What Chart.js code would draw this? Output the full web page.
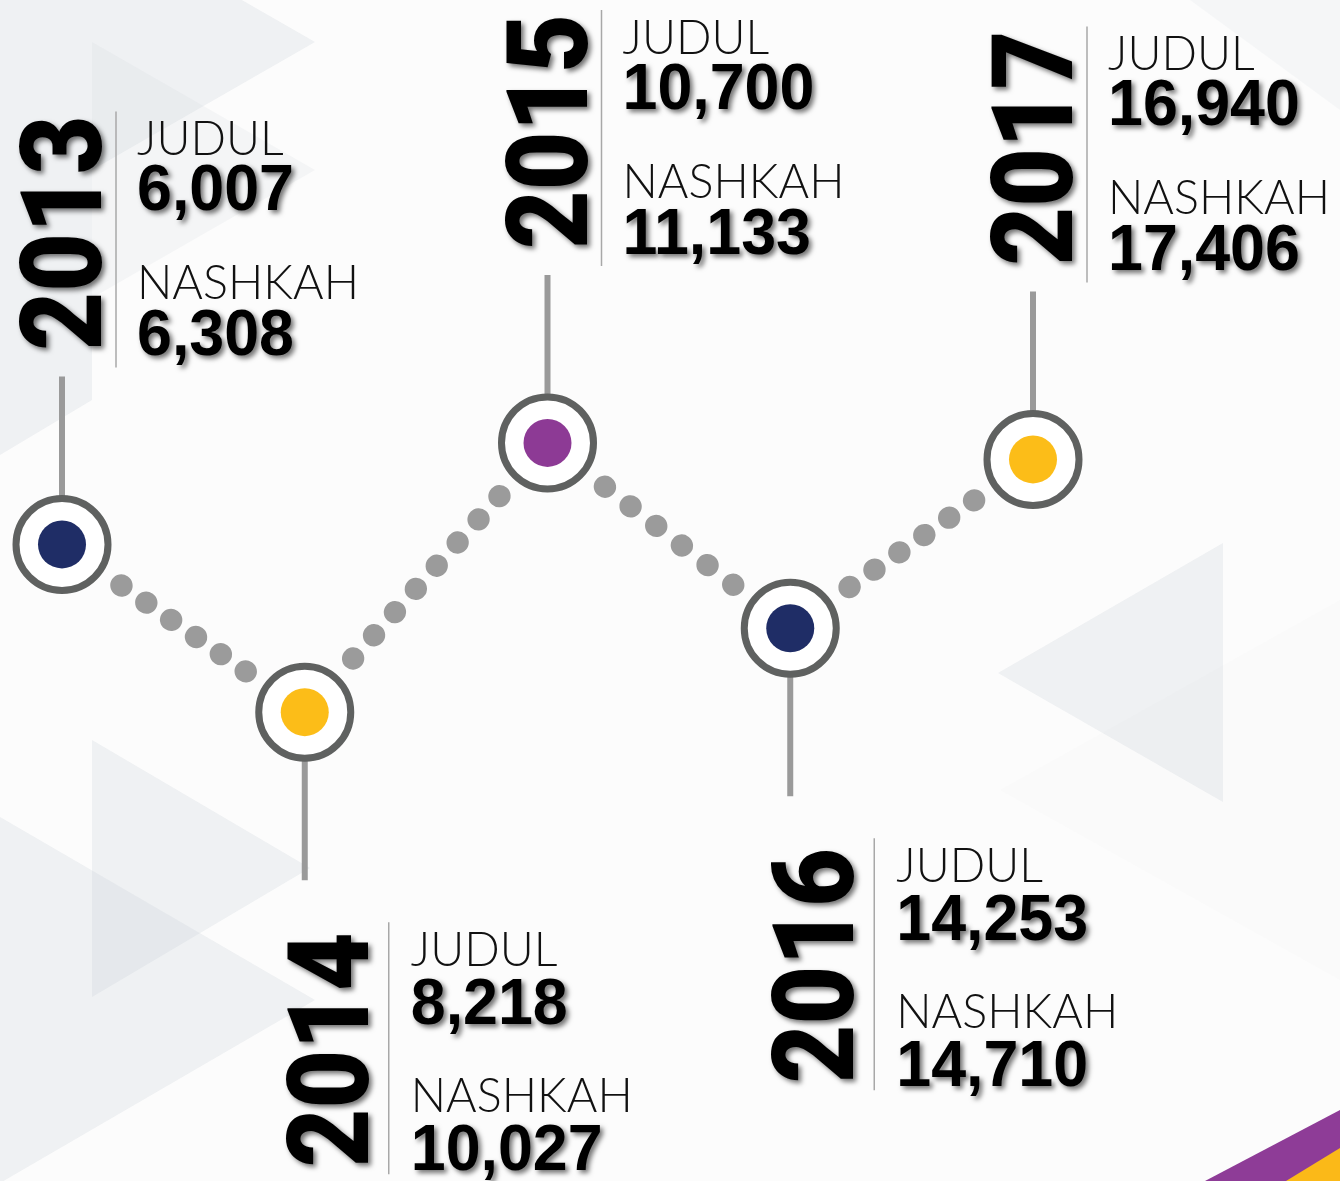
<!DOCTYPE html>
<html>
<head>
<meta charset="utf-8">
<script src="https://cdn.jsdelivr.net/npm/chart.js@4.4.1/dist/chart.umd.min.js"></script>
<style>
    body { margin: 0; overflow: hidden; background: #fcfcfc; }
    #wadah { width: 1340px; height: 1181px; }
</style>
</head>
<body>
<div id="wadah"><canvas id="grafik"></canvas></div>
<script>
const tahun = ['2013', '2014', '2015', '2016', '2017'];
const judul = [6007, 8218, 10700, 14253, 16940];
const nashkah = [6308, 10027, 11133, 14710, 17406];
// tinggi titik pada garis zig-zag (0 = bawah, 100 = atas)
const tahap = [53.9, 39.7, 62.5, 46.8, 61.1];

const warnaTitik = ['#1f2d66', '#fcbd18', '#8d3a95', '#1f2d66', '#fcbd18'];

const fontTahun = '900 114px Roboto, "Liberation Sans", sans-serif';
const fontAngka = 'bold 64px "Liberation Sans", Arial, sans-serif';
const fontLabel = '300 47px Lato, "Open Sans", sans-serif';

function poli(c, titik, warna) {
    c.fillStyle = warna;
    c.beginPath();
    c.moveTo(titik[0][0], titik[0][1]);
    for (let i = 1; i < titik.length; i++) {
        c.lineTo(titik[i][0], titik[i][1]);
    }
    c.closePath();
    c.fill();
}

const latar = {
    id: 'latar',
    beforeDraw(chart) {
        const c = chart.ctx;
        const abu = 'rgba(200,208,216,0.26)';
        c.save();
        c.fillStyle = '#fcfcfc';
        c.fillRect(0, 0, chart.width, chart.height);
        poli(c, [[0, 0], [92, 0], [92, 400], [0, 455]], abu);
        poli(c, [[92, -86], [315, 42], [92, 170]], abu);
        poli(c, [[92, 42], [315, 170], [92, 298]], 'rgba(200,208,216,0.14)');
        poli(c, [[92, 740], [310, 868], [92, 997]], abu);
        poli(c, [[0, 817], [315, 1000], [0, 1183]], abu);
        poli(c, [[1223, 543], [998, 673], [1223, 802]], abu);
        poli(c, [[1190, 0], [1340, 0], [1340, 110]], 'rgba(200,208,216,0.12)');
        poli(c, [[1340, 600], [1000, 790], [1340, 980]], 'rgba(200,208,216,0.04)');
        // garis warna di pojok kanan bawah
        poli(c, [[1205, 1181], [1340, 1110], [1340, 1181]], '#8e3c97');
        poli(c, [[1286, 1181], [1340, 1148], [1340, 1181]], '#fbb918');
        c.restore();
    }
};

const tangkai = {
    id: 'tangkai',
    beforeDatasetsDraw(chart) {
        const c = chart.ctx;
        const titik = chart.getDatasetMeta(1).data;
        c.save();
        c.strokeStyle = '#9a9a9a';
        c.lineWidth = 6;
        titik.forEach((p, i) => {
            const arah = i % 2 === 0 ? -1 : 1;
            c.beginPath();
            c.moveTo(p.x, p.y);
            c.lineTo(p.x, p.y + arah * 168);
            c.stroke();
        });
        c.restore();
    }
};

function tulis(c, teks, x, y, sx) {
    c.save();
    c.translate(x, y);
    c.scale(sx, 1);
    c.fillText(teks, 0, 0);
    c.restore();
}

const keterangan = {
    id: 'keterangan',
    afterDatasetsDraw(chart) {
        const c = chart.ctx;
        const titik = chart.getDatasetMeta(1).data;
        c.save();
        c.textBaseline = 'alphabetic';
        c.textAlign = 'left';
        c.font = fontTahun;
        const sxTahun = 235 / c.measureText('2013').width;
        c.font = fontAngka;
        const sxAngka = 157 / c.measureText('6,007').width;
        c.font = fontLabel;
        const sxLabel = 222 / c.measureText('NASHKAH').width;

        titik.forEach((p, i) => {
            const atas = i % 2 === 0;
            const dx = atas ? { th: 39, gs: 54, tx: 75 } : { th: 63, gs: 84, tx: 106 };
            const y = atas
                ? { th: -194, g1: -433, g2: -177, j: -389, jn: -334, n: -245, nn: -189 }
                : { th: 455, g1: 210, g2: 462, j: 254, jn: 312, n: 400, nn: 458 };

            // garis pemisah
            c.strokeStyle = '#a8a8a8';
            c.lineWidth = 1.5;
            c.beginPath();
            c.moveTo(p.x + dx.gs, p.y + y.g1);
            c.lineTo(p.x + dx.gs, p.y + y.g2);
            c.stroke();

            // tahun (tegak)
            c.fillStyle = '#000';
            c.shadowColor = 'rgba(0,0,0,0.55)';
            c.shadowBlur = 5;
            c.shadowOffsetX = 3;
            c.shadowOffsetY = 3;
            c.font = fontTahun;
            c.save();
            c.translate(p.x + dx.th, p.y + y.th);
            c.rotate(-Math.PI / 2);
            c.scale(sxTahun, 1);
            c.fillText(tahun[i], 0, 0);
            c.restore();

            // angka
            c.font = fontAngka;
            tulis(c, judul[i].toLocaleString('en-US'), p.x + dx.tx, p.y + y.jn, sxAngka);
            tulis(c, nashkah[i].toLocaleString('en-US'), p.x + dx.tx, p.y + y.nn, sxAngka);

            // label
            c.shadowColor = 'transparent';
            c.fillStyle = '#111';
            c.font = fontLabel;
            tulis(c, 'JUDUL', p.x + dx.tx, p.y + y.j, sxLabel);
            tulis(c, 'NASHKAH', p.x + dx.tx, p.y + y.n, sxLabel);
        });
        c.restore();
    }
};

// titik-titik abu di antara lingkaran, mulai 72px dari pusat
function polaTitik(ctx) {
    const L = Math.hypot(ctx.p1.x - ctx.p0.x, ctx.p1.y - ctx.p0.y);
    const n = Math.max(1, Math.round((L - 144) / 31));
    const jarak = (L - 144) / n;
    const pola = [0.5, 71.5];
    for (let k = 0; k <= n; k++) {
        pola.push(0.5, k < n ? jarak - 0.5 : 2000);
    }
    return pola;
}

const ctx = document.getElementById('grafik');
const myChart = new Chart(ctx, {
    type: 'line',
    data: {
        labels: tahun,
        datasets: [{
            label: 'Titik',
            data: tahap,
            showLine: false,
            pointRadius: 24,
            pointBorderWidth: 0,
            pointBackgroundColor: warnaTitik,
            clip: false,
            order: 0
        }, {
            label: 'Garis',
            data: tahap,
            borderColor: '#9b9b9b',
            borderWidth: 22,
            borderCapStyle: 'round',
            segment: {
                borderDash: polaTitik,
                borderDashOffset: 0
            },
            tension: 0,
            fill: false,
            pointRadius: 46,
            pointBorderWidth: 7,
            pointBorderColor: '#5f6160',
            pointBackgroundColor: '#ffffff',
            clip: false,
            order: 1
        }],
    },
    options: {
        responsive: true,
        maintainAspectRatio: false,
        animation: false,
        events: [],
        layout: {
            autoPadding: false,
            padding: { left: 62, right: 307, top: 0, bottom: 0 }
        },
        scales: {
            x: { display: false, offset: false },
            y: { display: false, min: 0, max: 100 }
        },
        plugins: {
            legend: { display: false },
            tooltip: { enabled: false }
        }
    },
    plugins: [latar, tangkai, keterangan]
});
</script>
</body>
</html>
